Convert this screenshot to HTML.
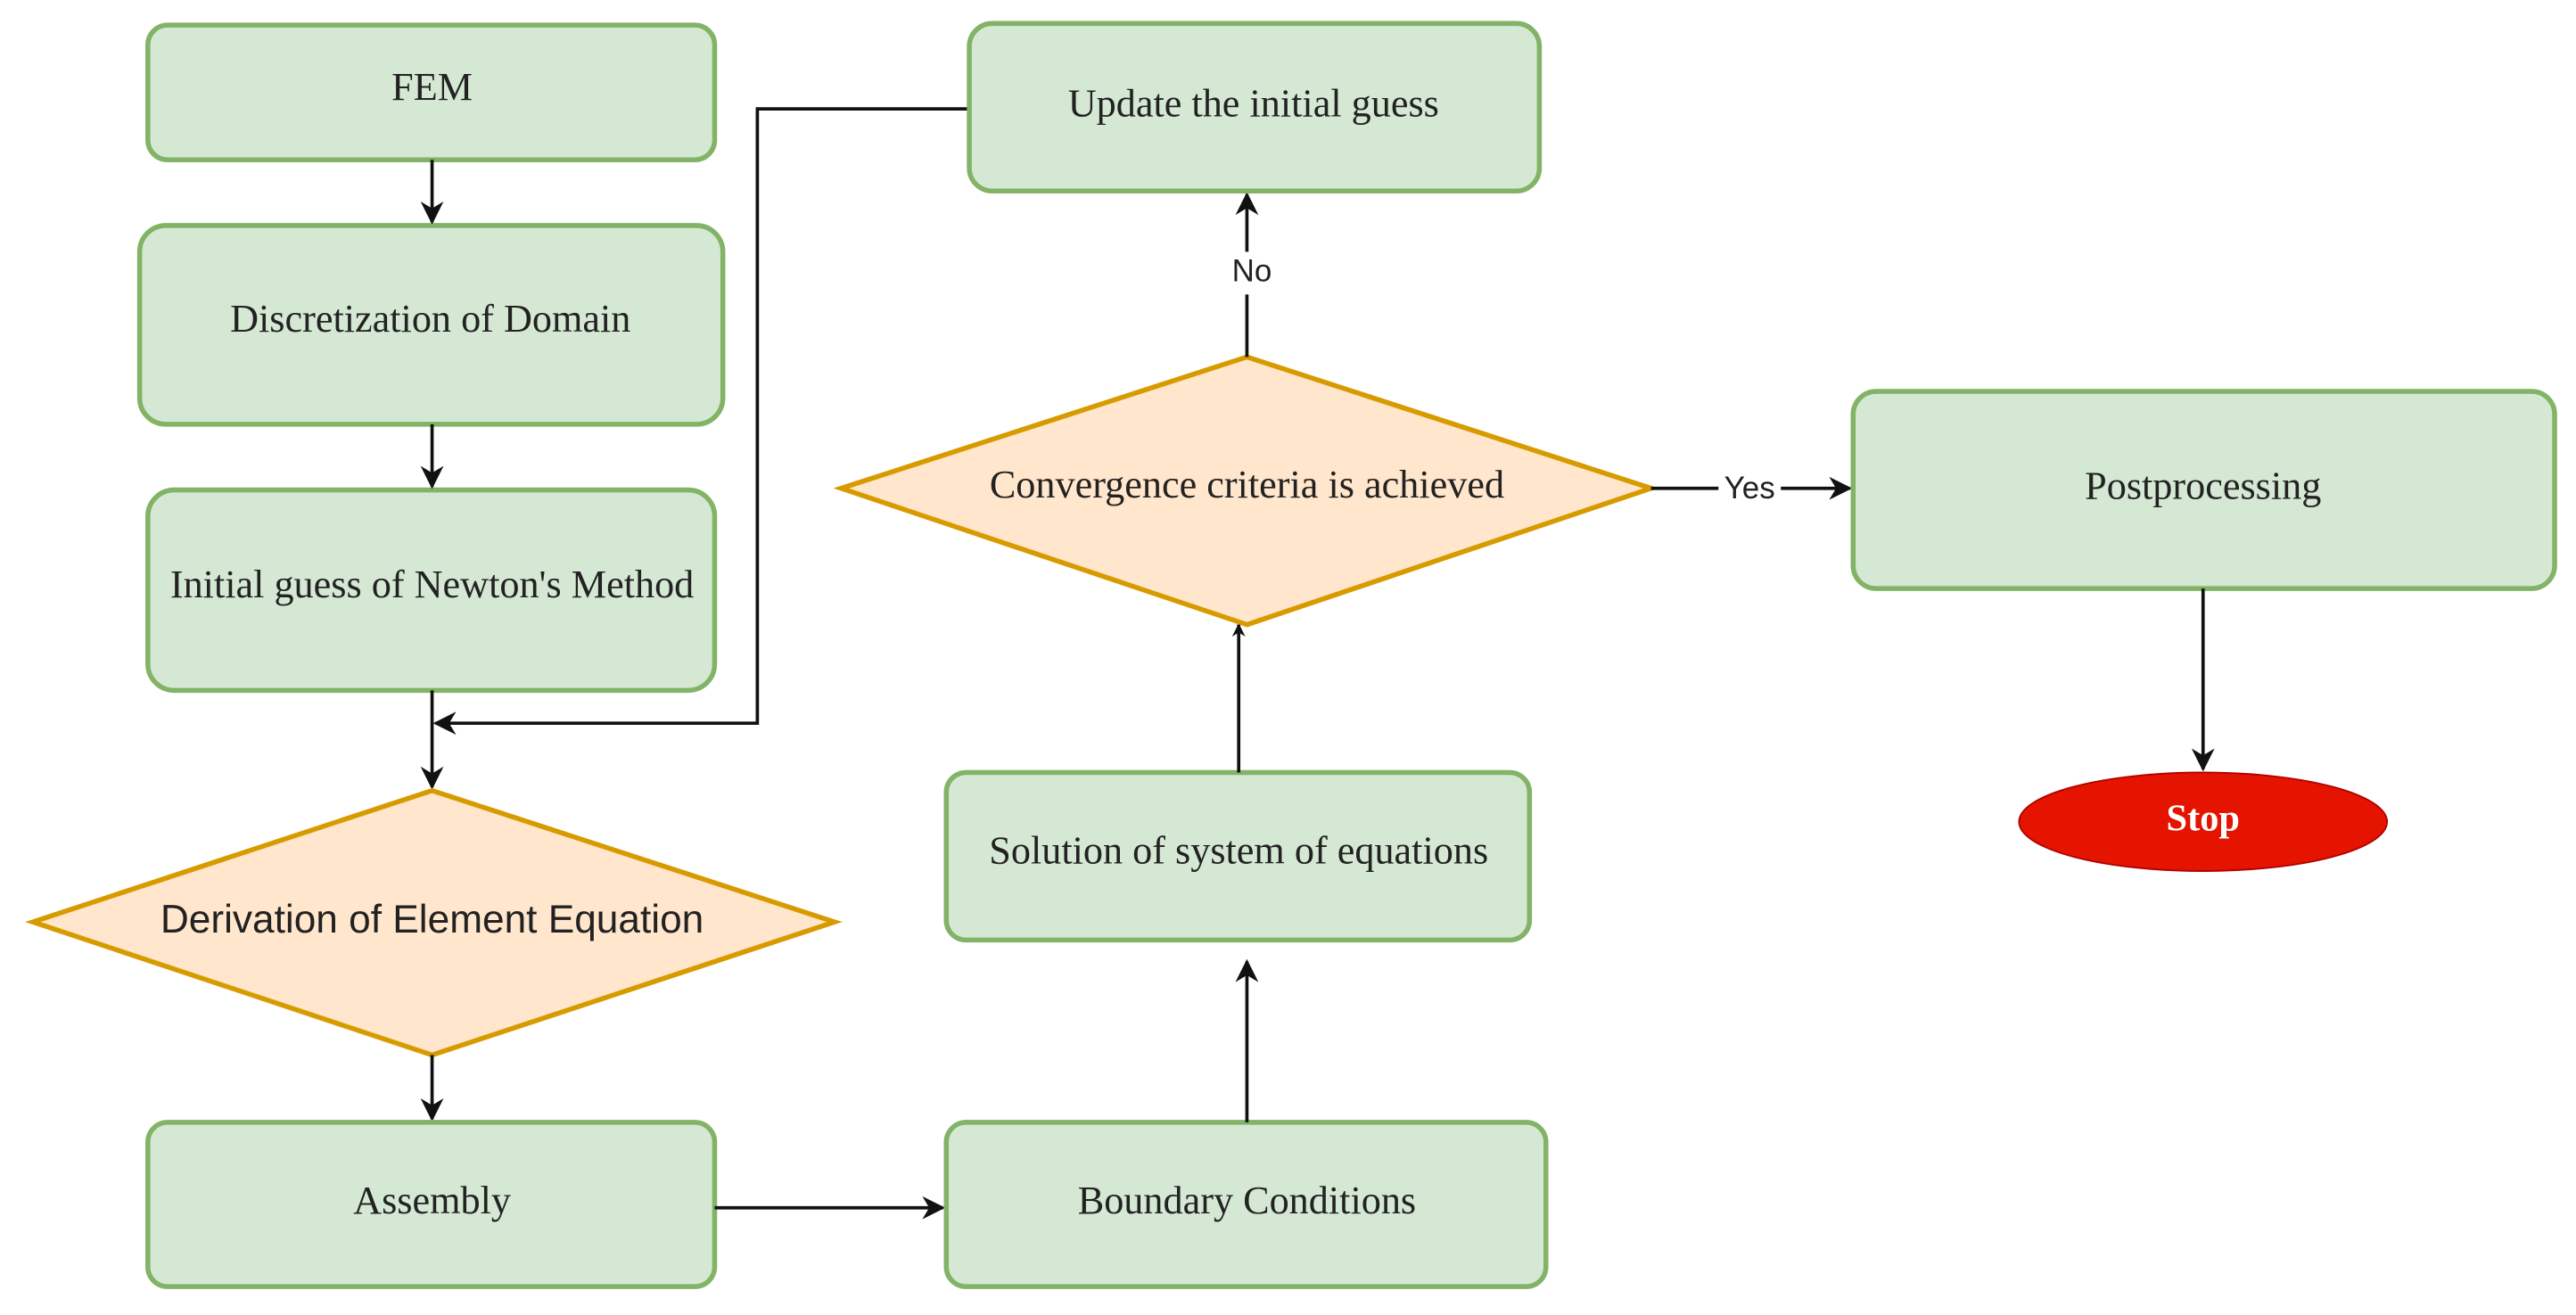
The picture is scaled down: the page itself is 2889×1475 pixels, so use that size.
<!DOCTYPE html>
<html><head><meta charset="utf-8"><style>
html,body{margin:0;padding:0;background:#fff;}
svg{display:block;}
.b{fill:#d5e8d4;stroke:#82b366;stroke-width:3;}
.d{fill:#ffe6cc;stroke:#d79b00;stroke-width:3;}
.s{font-family:"Liberation Serif",serif;font-size:24px;fill:#222;text-anchor:middle;dominant-baseline:middle;}
.a{font-family:"Liberation Sans",sans-serif;font-size:24px;fill:#222;text-anchor:middle;dominant-baseline:middle;}
.l{stroke:#111;stroke-width:2;fill:none;}
</style></head><body>
<svg width="2889" height="1475" viewBox="0 0 1568 800" xmlns="http://www.w3.org/2000/svg">
<defs><marker id="m" viewBox="0 0 10 10" refX="9" refY="5" markerWidth="8" markerHeight="8" orient="auto" markerUnits="userSpaceOnUse"><path d="M0,0 L10,5 L0,10 L3,5 z" fill="#111"/></marker>
<marker id="mk" viewBox="0 0 10 10" refX="9" refY="5" markerWidth="14" markerHeight="14" orient="auto" markerUnits="userSpaceOnUse"><path d="M0,0 L10,5 L0,10 L3,5 z" fill="#111"/></marker></defs>

<rect class="b" x="90" y="15" width="345" height="82" rx="12"/>
<text class="s" x="263" y="55">FEM</text>
<rect class="b" x="85" y="137" width="355" height="121" rx="16"/>
<text class="s" x="262" y="196">Discretization of Domain</text>
<rect class="b" x="90" y="298" width="345" height="122" rx="16"/>
<text class="s" x="263" y="358">Initial guess of Newton's Method</text>

<line class="l" x1="263" y1="97" x2="263" y2="135" marker-end="url(#mk)"/>
<line class="l" x1="263" y1="258" x2="263" y2="296" marker-end="url(#mk)"/>
<line class="l" x1="263" y1="420" x2="263" y2="479" marker-end="url(#mk)"/>
<polyline class="l" points="590,66 461,66 461,440 265,440" marker-end="url(#mk)"/>

<polygon class="d" points="263,481 508,561 263,642 20,561"/>
<text class="a" x="263" y="561">Derivation of Element Equation</text>
<line class="l" x1="263" y1="642" x2="263" y2="681" marker-end="url(#mk)"/>

<rect class="b" x="90" y="683" width="345" height="100" rx="12"/>
<text class="s" x="263" y="733">Assembly</text>
<line class="l" x1="435" y1="735" x2="574" y2="735" marker-end="url(#mk)"/>
<rect class="b" x="576" y="683" width="365" height="100" rx="12"/>
<text class="s" x="759" y="733">Boundary Conditions</text>
<line class="l" x1="759" y1="683" x2="759" y2="585" marker-end="url(#mk)"/>

<rect class="b" x="576" y="470" width="355" height="102" rx="12"/>
<text class="s" x="754" y="520">Solution of system of equations</text>
<line class="l" x1="754" y1="470" x2="754" y2="380" marker-end="url(#m)"/>

<polygon class="d" points="759,217 1005,297 759,380 512,297"/>
<text class="s" x="759" y="297">Convergence criteria is achieved</text>
<line class="l" x1="759" y1="217" x2="759" y2="118" marker-end="url(#mk)"/>
<rect x="745" y="153" width="32" height="26" fill="#fff"/>
<text class="a" x="762" y="166" style="font-size:19px">No</text>

<rect class="b" x="590" y="14" width="347" height="102" rx="14"/>
<text class="s" x="763" y="65">Update the initial guess</text>

<line class="l" x1="1005" y1="297" x2="1126" y2="297" marker-end="url(#mk)"/>
<rect x="1046" y="286" width="38" height="24" fill="#fff"/>
<text class="a" x="1065" y="298" style="font-size:19px">Yes</text>

<rect class="b" x="1128" y="238" width="427" height="120" rx="14"/>
<text class="s" x="1341" y="298">Postprocessing</text>
<line class="l" x1="1341" y1="358" x2="1341" y2="468" marker-end="url(#mk)"/>

<ellipse cx="1341" cy="500" rx="112" ry="30" fill="#e51400" stroke="#b20000" stroke-width="1"/>
<text class="s" x="1341" y="500" style="fill:#fff;font-weight:bold;font-size:23px;">Stop</text>
</svg>
</body></html>
